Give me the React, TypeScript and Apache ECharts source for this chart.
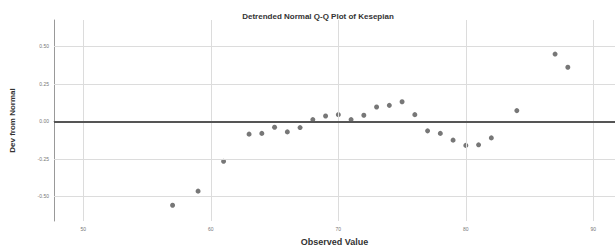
import React, { useEffect, useRef } from "react";
import * as echarts from "echarts";

const observed: number[] = [57, 59, 61, 63, 64, 65, 66, 67, 68, 69, 70, 71, 72, 73, 74, 75, 76, 77, 78, 79, 80, 81, 82, 84, 87, 88];
const deviation: number[] = [-0.56, -0.466, -0.267, -0.086, -0.081, -0.04, -0.071, -0.042, 0.011, 0.035, 0.044, 0.011, 0.04, 0.095, 0.106, 0.13, 0.044, -0.064, -0.081, -0.126, -0.161, -0.157, -0.111, 0.071, 0.448, 0.36];
const xTicks: number[] = [50, 60, 70, 80, 90];
const yTicks: number[] = [-0.5, -0.25, 0, 0.25, 0.5];

const title = "Detrended Normal Q-Q Plot of Kesepian";
const xTitle = "Observed Value";
const yTitle = "Dev from Normal";

export default function App() {
  const ref = useRef<HTMLDivElement>(null);
  useEffect(() => {
    document.body.style.margin = "0";
    const chart = echarts.init(ref.current!, undefined, { renderer: "svg" });
    const gridStyle = { color: "#dcdcdc", width: 1, type: "solid" };
    chart.setOption({
      animation: false,
      backgroundColor: "#ffffff",
      title: {
        text: title,
        left: 313,
        textAlign: "center",
        top: 7,
        textStyle: { fontSize: 8, fontWeight: "bold", color: "#333", fontFamily: "Liberation Sans" },
      },
      grid: { left: 54, right: 0, top: 20, bottom: 29, containLabel: false },
      xAxis: {
        type: "value",
        min: 47.7,
        max: 91.7,
        name: xTitle,
        nameLocation: "middle",
        nameGap: 16,
        nameTextStyle: { fontSize: 9, fontWeight: "bold", color: "#333", fontFamily: "Liberation Sans" },
        axisLine: { show: true, lineStyle: { color: "#999", width: 1 } },
        axisTick: { show: false },
        axisLabel: {
          fontSize: 5,
          color: "#777",
          margin: 5,
          customValues: xTicks,
          formatter: (v: number) => String(v),
        },
        splitLine: { show: false },
      },
      yAxis: {
        type: "value",
        min: -0.665,
        max: 0.675,
        name: yTitle,
        nameLocation: "middle",
        nameGap: 38,
        nameRotate: 90,
        nameTextStyle: { fontSize: 8, fontWeight: "bold", color: "#333", fontFamily: "Liberation Sans" },
        axisLine: { show: true, lineStyle: { color: "#999", width: 1 } },
        axisTick: { show: false },
        axisLabel: {
          fontSize: 5,
          color: "#777",
          margin: 5,
          customValues: yTicks,
          formatter: (v: number) => v.toFixed(2),
        },
        splitLine: { show: false },
      },
      series: [
        {
          type: "scatter",
          data: [],
          silent: true,
          markLine: {
            silent: true,
            symbol: "none",
            label: { show: false },
            lineStyle: gridStyle,
            data: [
              ...xTicks.map((v) => ({ xAxis: v })),
              ...yTicks.filter((v) => v !== 0).map((v) => ({ yAxis: v })),
            ],
          },
          z: 1,
        },
        {
          type: "scatter",
          data: observed.map((x, i) => [x, deviation[i]]),
          symbol: "circle",
          symbolSize: 5,
          itemStyle: { color: "#555" },
          markLine: {
            silent: true,
            symbol: "none",
            label: { show: false },
            lineStyle: { color: "#555", width: 2, type: "solid" },
            data: [{ yAxis: 0 }],
          },
          z: 3,
        },
      ],
    });
    return () => chart.dispose();
  }, []);
  return <div ref={ref} style={{ width: 615, height: 251 }} />;
}
